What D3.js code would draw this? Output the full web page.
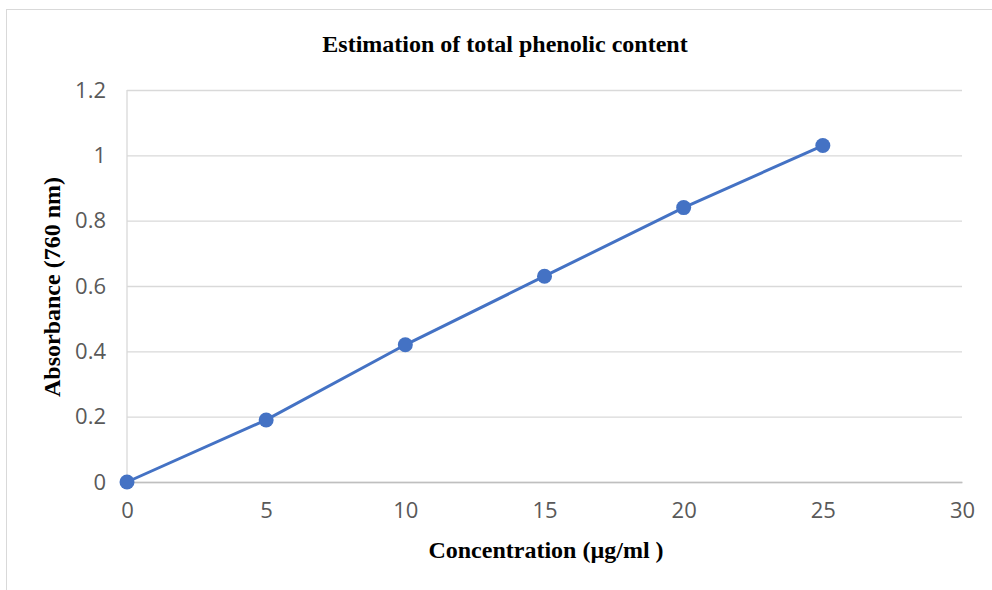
<!DOCTYPE html>
<html>
<head>
<meta charset="utf-8">
<script src="https://cdn.jsdelivr.net/npm/d3@7"></script>
<style>
	body { margin: 0; background: #fff; }
	svg { display: block; }
</style>
</head>
<body>
<svg id="chart"></svg>
<script>
// data
const concentration = [0, 5, 10, 15, 20, 25];
const absorbance = [0, 0.19, 0.42, 0.63, 0.84, 1.03];
const xTicks = [0, 5, 10, 15, 20, 25, 30];
const yTicks = [0, 0.2, 0.4, 0.6, 0.8, 1, 1.2];

const width = 992;
const height = 590;
const marginLeft = 127;
const marginRight = 30;
const marginTop = 90;
const marginBottom = 108;

const svg = d3.select('#chart').attr('width', width).attr('height', height);

// chart frame
svg.append('rect')
	.attr('x', 6.5).attr('y', 9.5)
	.attr('width', width + 10).attr('height', height + 10)
	.attr('fill', 'none')
	.attr('stroke', '#d9d9d9');

const x = d3.scaleLinear().domain([0, 30]).range([marginLeft, width - marginRight]);
const y = d3.scaleLinear().domain([0, 1.2]).range([height - marginBottom, marginTop]);

// horizontal grid + y labels
svg.append('g')
	.attr('transform', `translate(${marginLeft},0)`)
	.call(d3.axisLeft(y).tickValues(yTicks).tickFormat(d3.format('~g'))
		.tickSize(-(width - marginRight - marginLeft)).tickPadding(21))
	.call((g) => g.select('.domain').remove())
	.call((g) => g.selectAll('.tick line').attr('stroke', '#d9d9d9').attr('stroke-width', 1.3))
	.attr('font-family', 'Open Sans, sans-serif')
	.attr('font-size', 22)
	.call((g) => g.selectAll('.tick text').attr('fill', '#595959'));

// vertical axis line
svg.append('line')
	.attr('x1', x(0)).attr('x2', x(0))
	.attr('y1', y(1.2)).attr('y2', y(0))
	.attr('stroke', '#d9d9d9').attr('stroke-width', 1.3);

// x axis
svg.append('g')
	.attr('transform', `translate(0,${y(0)})`)
	.call(d3.axisBottom(x).tickValues(xTicks).tickSize(0).tickPadding(20))
	.call((g) => g.select('.domain').attr('stroke', '#bfbfbf').attr('stroke-width', 1.3))
	.attr('font-family', 'Open Sans, sans-serif')
	.attr('font-size', 22)
	.call((g) => g.selectAll('.tick text').attr('fill', '#595959'));

const points = concentration.map((c, i) => ({ c: c, a: absorbance[i] }));

svg.append('path')
	.datum(points)
	.attr('fill', 'none')
	.attr('stroke', '#4472c4')
	.attr('stroke-width', 3)
	.attr('d', d3.line().x((d) => x(d.c)).y((d) => y(d.a)));

svg.append('g')
	.selectAll('circle')
	.data(points)
	.join('circle')
	.attr('cx', (d) => x(d.c))
	.attr('cy', (d) => y(d.a))
	.attr('r', 7.5)
	.attr('fill', '#4472c4');

// titles
svg.append('text')
	.attr('x', 505).attr('y', 52)
	.attr('text-anchor', 'middle')
	.attr('font-family', 'Liberation Serif, serif')
	.attr('font-weight', 'bold')
	.attr('font-size', 24)
	.text('Estimation of total phenolic content');

svg.append('text')
	.attr('x', 546).attr('y', 558)
	.attr('text-anchor', 'middle')
	.attr('font-family', 'Liberation Serif, serif')
	.attr('font-weight', 'bold')
	.attr('font-size', 24)
	.text('Concentration (µg/ml )');

svg.append('text')
	.attr('transform', `translate(60,287) rotate(-90)`)
	.attr('text-anchor', 'middle')
	.attr('font-family', 'Liberation Serif, serif')
	.attr('font-weight', 'bold')
	.attr('font-size', 24)
	.text('Absorbance (760 nm)');
</script>
</body>
</html>
